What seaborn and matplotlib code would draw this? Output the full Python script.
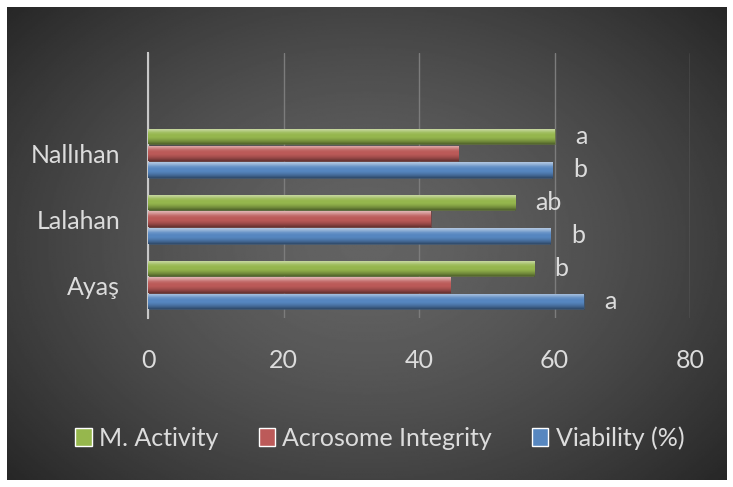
#!/usr/bin/env python3

# Horizontal grouped bars: sperm quality by location.

import matplotlib.pyplot as plt
import numpy as np
import pandas
import seaborn as sns
from matplotlib.colors import to_rgb

locations = ["Nallıhan", "Lalahan", "Ayaş"]
series = ["M. Activity", "Acrosome Integrity", "Viability (%)"]
m_activity = [60.0, 54.2, 57.0]
acrosome = [45.8, 41.7, 44.6]
viability = [59.7, 59.4, 64.3]
letters_activity = ["a", "ab", "b"]
letters_viability = ["b", "b", "a"]
xticks = [0, 20, 40, 60, 80]

colors = ["#9cc83c", "#cc4a48", "#4585d2"]
text_color = "#dcdcdc"
FS = 18

sns.set_theme(style="dark")
plt.rcParams["font.family"] = ["Lato", "DejaVu Sans"]

df = pandas.DataFrame(
    {
        "location": locations * 3,
        "series": [s for s in series for _ in locations],
        "value": m_activity + acrosome + viability,
    }
)

fig = plt.figure(figsize=(7.33, 4.87), dpi=100, facecolor="white")

# dark radial backdrop
bg = fig.add_axes([7 / 733, 7 / 487, 720 / 733, 473 / 487])
yy, xx = np.mgrid[-1:1:300j, -1:1:450j]
r = np.sqrt((xx * 0.9) ** 2 + (yy * 0.8) ** 2)
bg.imshow(0.39 - 0.18 * np.clip(r, 0, 1.3) ** 1.5, cmap="gray", vmin=0, vmax=1,
          aspect="auto", extent=[0, 1, 0, 1])
bg.set_axis_off()

ax = fig.add_axes([148 / 733, 169 / 487, 542 / 733, 265 / 487])
ax.set_facecolor("none")
sns.barplot(
    data=df,
    x="value",
    y="location",
    hue="series",
    order=locations,
    hue_order=series,
    palette=colors,
    width=0.76,
    orient="h",
    ax=ax,
    legend=True,
)

# cylinder-like shading on each bar
prof = np.array([0.55, 0.35, 0.1, 0.0, 0.0, -0.1, -0.25, -0.45])
for patch in list(ax.patches):
    h = patch.get_height()
    patch.set_height(h * 0.92)
    patch.set_y(patch.get_y() + h * 0.04)
    x0, y0 = patch.get_x(), patch.get_y()
    w, h = patch.get_width(), patch.get_height()
    if w <= 0:
        continue
    base = np.array(to_rgb(patch.get_facecolor()))
    t = np.interp(np.linspace(0, 1, 40), np.linspace(0, 1, len(prof)), prof)
    rows = np.array([base + (1 - base) * v if v > 0 else base * (1 + v) for v in t])
    img = np.repeat(rows[:, None, :], 2, axis=1)
    im = ax.imshow(img, extent=(x0, x0 + w, y0 + h, y0), origin="upper",
                   aspect="auto", interpolation="bilinear", zorder=3)
    im.set_clip_path(patch)
    patch.set_edgecolor((0, 0, 0, 0.25))
    patch.set_linewidth(0.6)

for i, loc in enumerate(locations):
    ax.text(m_activity[i] + 3, i - 0.253, letters_activity[i], color=text_color,
            fontsize=FS, ha="left", va="center", zorder=5)
    ax.text(viability[i] + 3, i + 0.253, letters_viability[i], color=text_color,
            fontsize=FS, ha="left", va="center", zorder=5)

ax.set_xlim(0, 80)
ax.set_ylim(2.5, -1.52)
ax.set_xticks(xticks)
ax.set_xticklabels([str(t) for t in xticks], color=text_color, fontsize=FS)
ax.set_yticks(range(len(locations)))
ax.set_yticklabels(locations, color=text_color, fontsize=FS)
ax.tick_params(axis="x", pad=22, length=0)
ax.tick_params(axis="y", pad=20, length=0)
ax.set_xlabel("")
ax.set_ylabel("")
ax.grid(axis="x", color="#7c7c7c", linewidth=1)
ax.grid(axis="y", visible=False)
ax.set_axisbelow(True)
for side in ["top", "right", "bottom"]:
    ax.spines[side].set_visible(False)
ax.spines["left"].set_color("#c8c8c8")
ax.spines["left"].set_linewidth(1.5)

ax.legend(
    loc="center",
    bbox_to_anchor=(0.428, -0.453),
    ncol=3,
    frameon=False,
    fontsize=FS,
    labelcolor=text_color,
    handlelength=0.65,
    handleheight=0.7,
    handletextpad=0.3,
    columnspacing=1.6,
    borderpad=0,
)

plt.savefig("out.png", dpi=100, facecolor="white")
